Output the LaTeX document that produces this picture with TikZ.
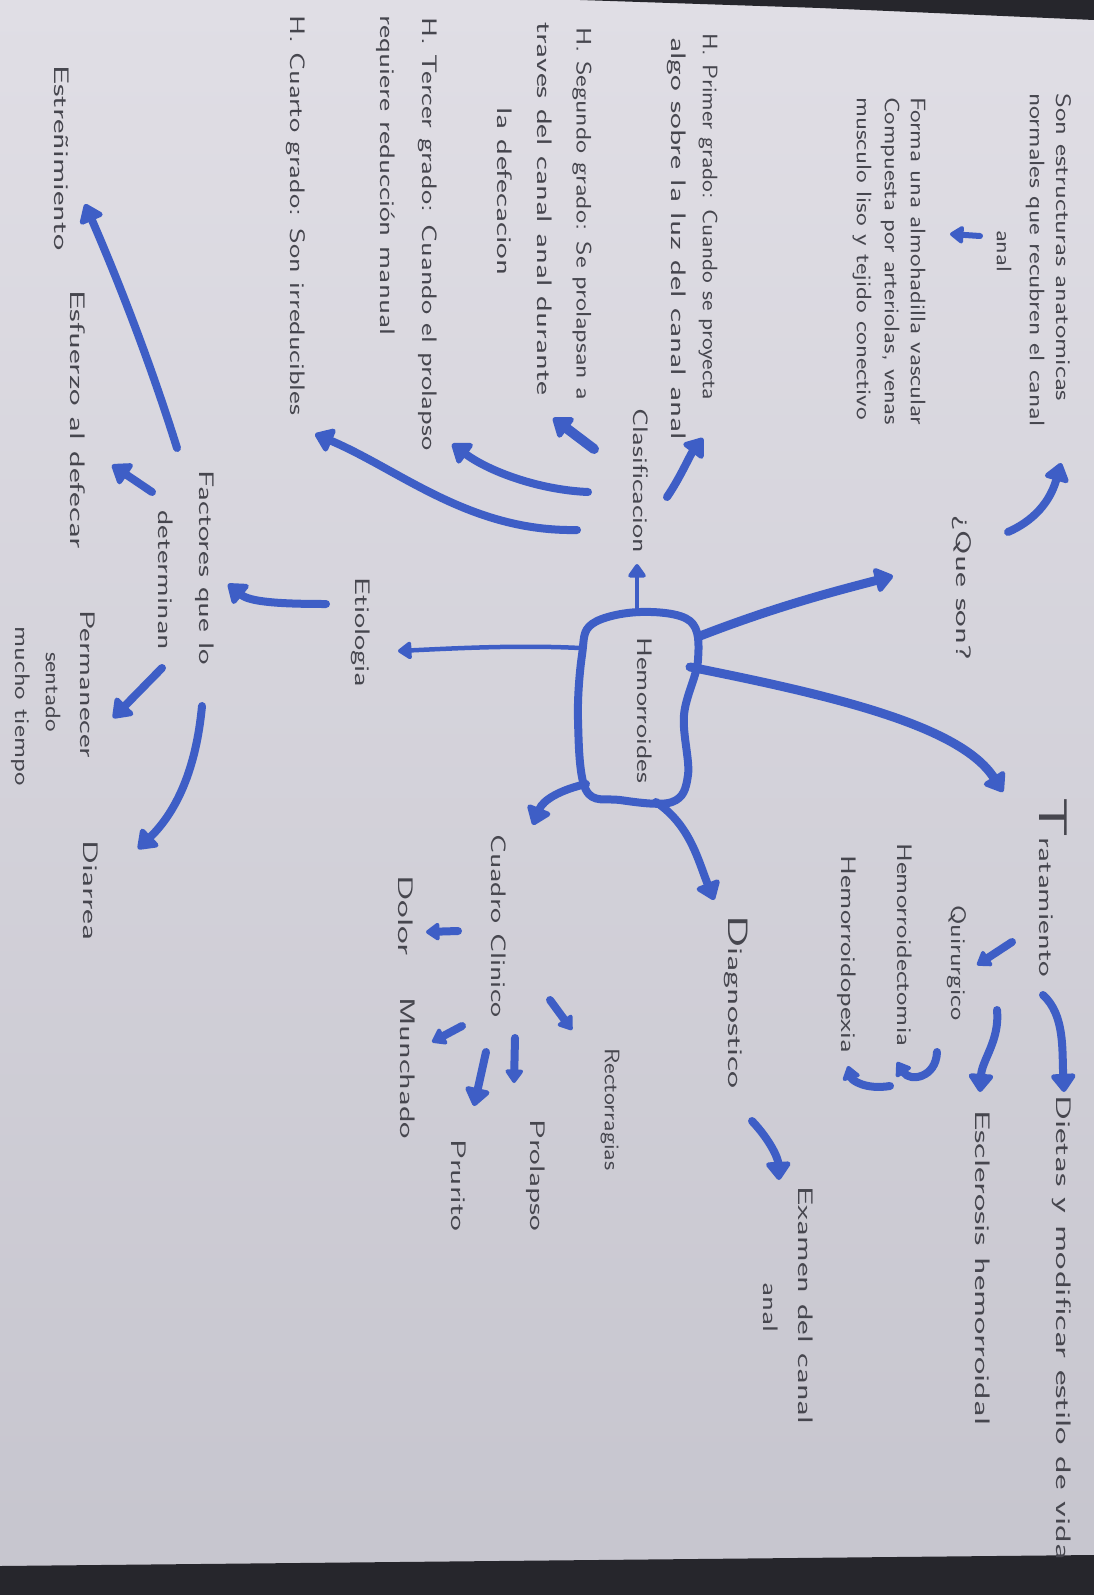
\documentclass[tikz,border=0pt]{standalone}
\usepackage{fontspec}
\usepackage{graphicx}
\usetikzlibrary{arrows.meta}
\definecolor{ink}{RGB}{62,94,198}
\definecolor{pencil}{RGB}{70,70,78}
\definecolor{papertop}{RGB}{224,222,229}
\definecolor{paperbot}{RGB}{198,197,206}
\definecolor{deskdark}{RGB}{38,38,44}
\newcommand\fitx[2]{\resizebox{#1pt}{\height}{#2}}
\tikzset{
  pen/.style={draw=ink, line width=8pt, line cap=round, line join=round},
  thinpen/.style={draw=ink, line width=4.5pt, line cap=round, line join=round},
  bighead/.style={-{Triangle[length=20pt,width=28pt,round]}},
  smallhead/.style={-{Triangle[length=15pt,width=20pt,round]}},
  txt/.style={rotate=-90, anchor=west, text=pencil, inner sep=0pt, font=\sffamily\fontsize{21}{21}\selectfont},
}
\begin{document}
\begin{tikzpicture}[x=1pt,y=-1pt]
\useasboundingbox (0,0) rectangle (1094,1595);
% paper and desk
\shade[top color=papertop, bottom color=paperbot] (0,0) rectangle (1094,1595);
\fill[deskdark] (0,1566) -- (1094,1555) -- (1094,1595) -- (0,1595) -- cycle;
\fill[deskdark] (580,0) -- (1094,0) -- (1094,20) -- (820,8) -- cycle;

% ---------- texts ----------
\node[txt] (t1) at (1064,93) {\fitx{308}{Son estructuras anatomicas}};
\node[txt] (t2) at (1035,93) {\fitx{333}{normales que recubren el canal}};
\node[txt] (t3) at (1004,230) {\fitx{42}{anal}};
\node[txt] (t4) at (918,97) {\fitx{328}{Forma una almohadilla vascular}};
\node[txt] (t5) at (890,97) {\fitx{328}{Compuesta por arteriolas, venas}};
\node[txt] (t6) at (862,97) {\fitx{323}{musculo liso y tejido conectivo}};
\node[txt] (t7) at (708,33) {\fitx{367}{H. Primer grado: Cuando se proyecta}};
\node[txt] (t8) at (677,37) {\fitx{403}{algo sobre la luz del canal anal}};
\node[txt] (t9) at (582,27) {\fitx{373}{H. Segundo grado: Se prolapsan a}};
\node[txt] (t10) at (545,22) {\fitx{373}{traves del canal anal durante}};
\node[txt] (t11) at (505,107) {\fitx{168}{la defecacion}};
\node[txt] (t12) at (428,17) {\fitx{433}{H. Tercer grado: Cuando el prolapso}};
\node[txt] (t13) at (386,15) {\fitx{320}{requiere reducción manual}};
\node[txt] (t14) at (296,15) {\fitx{400}{H. Cuarto grado: Son irreducibles}};
\node[txt] (t15) at (62,65) {\fitx{185}{Estreñimiento}};
\node[txt] (t16) at (78,290) {\fitx{258}{Esfuerzo al defecar}};
\node[txt] (t17) at (205,470) {\fitx{195}{Factores que lo}};
\node[txt] (t18) at (166,510) {\fitx{140}{determinan}};
\node[txt] (t19) at (88,610) {\fitx{148}{Permanecer}};
\node[txt] (t20) at (53,652) {\fitx{80}{sentado}};
\node[txt] (t21) at (21,626) {\fitx{160}{mucho tiempo}};
\node[txt] (t22) at (91,840) {\fitx{100}{Diarrea}};
\node[txt] (t23) at (361,577) {\fitx{110}{Etiologia}};
\node[txt] (t24) at (641,408) {\fitx{145}{Clasificacion}};
\node[txt] (t25) at (645,637) {\fitx{146}{Hemorroides}};
\node[txt] (t26) at (962,515) {\fitx{145}{¿Que son?}};
\node[txt] (t27) at (1053,797) {\fitx{180}{{\fontsize{40}{40}\selectfont T}ratamiento}};
\node[txt] (t28) at (957,905) {\fitx{115}{Quirurgico}};
\node[txt] (t29) at (905,843) {\fitx{203}{Hemorroidectomia}};
\node[txt] (t30) at (847,855) {\fitx{198}{Hemorroidopexia}};
\node[txt] (t31) at (1062,1095) {\fitx{465}{Dietas y modificar estilo de vida}};
\node[txt] (t32) at (983,1110) {\fitx{315}{Esclerosis hemorroidal}};
\node[txt] (t33) at (736,915) {\fitx{173}{{\fontsize{28}{28}\selectfont D}iagnostico}};
\node[txt] (t34) at (806,1186) {\fitx{238}{Examen del canal}};
\node[txt] (t35) at (771,1282) {\fitx{50}{anal}};
\node[txt] (t36) at (499,834) {\fitx{183}{Cuadro Clinico}};
\node[txt] (t37) at (610,1048) {\fitx{122}{Rectorragias}};
\node[txt] (t38) at (536,1119) {\fitx{112}{Prolapso}};
\node[txt] (t39) at (459,1139) {\fitx{92}{Prurito}};
\node[txt] (t40) at (406,875) {\fitx{80}{Dolor}};
\node[txt] (t41) at (408,997) {\fitx{142}{Munchado}};

% ---------- central blob ----------
\draw[pen] plot[smooth cycle, tension=0.6] coordinates {(592,624) (640,612) (690,621) (698,660) (684,715) (688,775) (672,802) (620,800) (586,790) (578,720) (582,655)};

% ---------- connector end points ----------
\coordinate (bQ) at (700,636);   \coordinate (eQ) at (893,576);
\coordinate (bT) at (690,667);   \coordinate (eT) at (1003,792);
\coordinate (bE) at (580,648);   \coordinate (eE) at (398,651);
\coordinate (bC) at (637,612);   \coordinate (eC) at (637,564);
\coordinate (bCC) at (586,784);  \coordinate (eCC) at (533,825);
\coordinate (bD) at (656,802);   \coordinate (eD) at (714,900);
\coordinate (b1) at (667,497);   \coordinate (e1) at (703,438);
\coordinate (b2) at (594,449);   \coordinate (e2) at (553,418);
\coordinate (b3) at (588,492);   \coordinate (e3) at (452,444);
\coordinate (b4) at (577,530);   \coordinate (e4) at (315,434);
\coordinate (bS) at (1008,532);  \coordinate (eS) at (1061,463);
\coordinate (bA) at (980,236);   \coordinate (eA) at (950,234);
\coordinate (bF) at (326,604);   \coordinate (eF) at (228,584);
\coordinate (bF1) at (152,492);  \coordinate (eF1) at (112,465);
\coordinate (bF2) at (177,448);  \coordinate (eF2) at (85,204);
\coordinate (bF3) at (162,668);  \coordinate (eF3) at (113,718);
\coordinate (bF4) at (202,706);  \coordinate (eF4) at (138,849);
\coordinate (bDo) at (458,931);  \coordinate (eDo) at (426,932);
\coordinate (bMu) at (462,1026); \coordinate (eMu) at (432,1042);
\coordinate (bPu) at (486,1052); \coordinate (ePu) at (474,1106);
\coordinate (bPo) at (515,1038); \coordinate (ePo) at (514,1083);
\coordinate (bRe) at (550,1000); \coordinate (eRe) at (572,1030);
\coordinate (bQu) at (1012,942); \coordinate (eQu) at (977,965);
\coordinate (bDi) at (1043,995); \coordinate (eDi) at (1064,1092);
\coordinate (bEs) at (997,1010); \coordinate (eEs) at (980,1092);
\coordinate (bHe) at (937,1052); \coordinate (eHe) at (897,1062);
\coordinate (bHp) at (890,1086); \coordinate (eHp) at (848,1066);
\coordinate (bEx) at (752,1121); \coordinate (eEx) at (779,1180);

% ---------- main branches ----------
\draw[pen, line width=9pt, bighead] (bQ) .. controls (780,605) and (840,590) .. (eQ);
\draw[pen, line width=9pt, bighead] (bT) .. controls (830,695) and (960,725) .. (eT);
\draw[thinpen, smallhead] (bE) .. controls (520,645) and (460,648) .. (eE);
\draw[thinpen, smallhead] (bC) -- (eC);
\draw[pen, bighead] (bCC) .. controls (560,790) and (543,800) .. (eCC);
\draw[pen, bighead] (bD) .. controls (690,825) and (698,860) .. (eD);

% ---------- Clasificacion ----------
\draw[pen, bighead] (b1) .. controls (680,478) and (690,455) .. (e1);
\draw[pen, line width=10pt, bighead] (b2) -- (e2);
\draw[pen, bighead] (b3) .. controls (540,490) and (490,472) .. (e3);
\draw[pen, bighead] (b4) .. controls (470,532) and (400,470) .. (e4);

% ---------- Que son ----------
\draw[pen, bighead] (bS) .. controls (1040,518) and (1052,495) .. (eS);
\draw[pen, line width=6pt, smallhead] (bA) -- (eA);

% ---------- Etiologia / factores ----------
\draw[pen, bighead] (bF) .. controls (280,604) and (250,602) .. (eF);
\draw[pen, bighead] (bF1) -- (eF1);
\draw[pen, bighead] (bF2) .. controls (150,362) and (118,280) .. (eF2);
\draw[pen, bighead] (bF3) -- (eF3);
\draw[pen, bighead] (bF4) .. controls (196,770) and (176,812) .. (eF4);

% ---------- Cuadro clinico ----------
\draw[pen, smallhead] (bDo) -- (eDo);
\draw[pen, smallhead] (bMu) -- (eMu);
\draw[pen, bighead] (bPu) -- (ePu);
\draw[pen, smallhead] (bPo) -- (ePo);
\draw[pen, smallhead] (bRe) -- (eRe);

% ---------- Tratamiento ----------
\draw[pen, smallhead] (bQu) -- (eQu);
\draw[pen, bighead] (bDi) .. controls (1065,1015) and (1062,1050) .. (eDi);
\draw[pen, bighead] (bEs) .. controls (1000,1040) and (982,1060) .. (eEs);
\draw[pen, smallhead] (bHe) .. controls (936,1078) and (910,1082) .. (eHe);
\draw[pen, smallhead] (bHp) .. controls (865,1090) and (852,1080) .. (eHp);

% ---------- Diagnostico ----------
\draw[pen, bighead] (bEx) .. controls (770,1140) and (778,1158) .. (eEx);
\end{tikzpicture}
\end{document}
